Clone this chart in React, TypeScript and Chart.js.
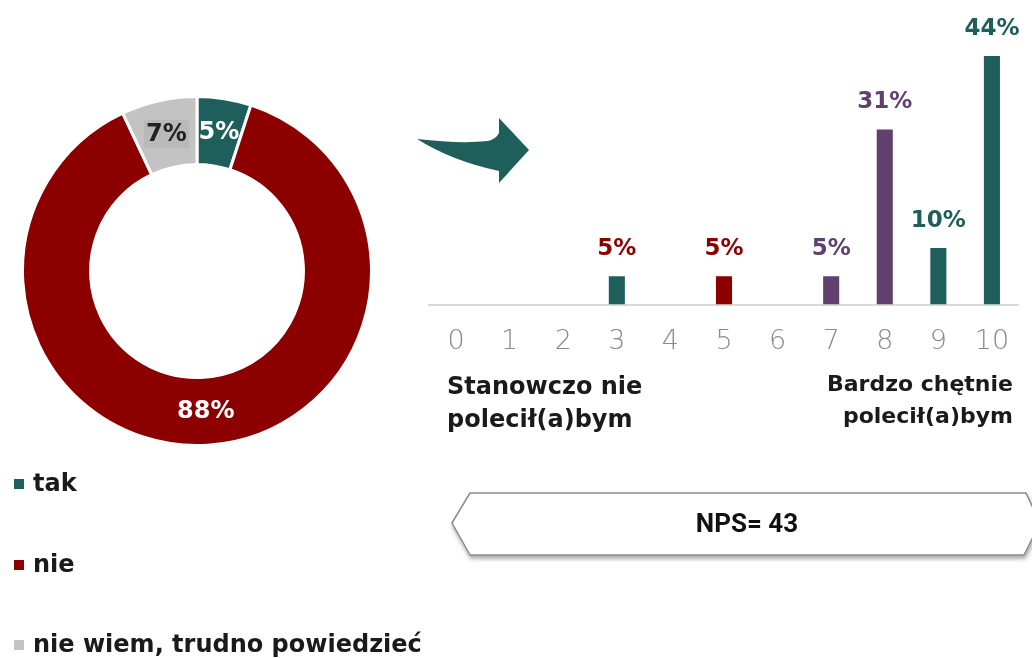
import React, { useEffect, useRef } from "react";
import { Chart, registerables } from "chart.js";

Chart.register(...registerables);

// ---- data ----
const donutLabels = ["tak", "nie", "nie wiem, trudno powiedzieć"];
const donutValues = [5, 88, 7];
const donutColors = ["#1f5f5b", "#8c0000", "#c3c3c3"];
const donutLabelColors = ["#ffffff", "#ffffff", "#222222"];

const scoreLabels = ["0", "1", "2", "3", "4", "5", "6", "7", "8", "9", "10"];
const scoreValues = [0, 0, 0, 5, 0, 5, 0, 5, 31, 10, 44];
const barColors = ["#1f5f5b", "#1f5f5b", "#1f5f5b", "#1f5f5b", "#1f5f5b", "#8c0000", "#613f6e", "#613f6e", "#613f6e", "#1f5f5b", "#1f5f5b"];
const barLabelColors = ["#8c0000", "#8c0000", "#8c0000", "#8c0000", "#8c0000", "#8c0000", "#613f6e", "#613f6e", "#613f6e", "#1f5f5b", "#1f5f5b"];

const leftScaleLabel = ["Stanowczo nie", "polecił(a)bym"];
const rightScaleLabel = ["Bardzo chętnie", "polecił(a)bym"];
const npsText = "NPS= 43";

const FONT = "'DejaVu Sans', sans-serif";

const donutLabelPlugin = {
  id: "donutLabels",
  afterDatasetsDraw(chart: any) {
    const ctx = chart.ctx;
    const meta = chart.getDatasetMeta(0);
    ctx.save();
    ctx.font = `bold 24px ${FONT}`;
    ctx.textAlign = "center";
    ctx.textBaseline = "middle";
    meta.data.forEach((arc: any, i: number) => {
      const p = arc.getCenterPoint();
      const txt = `${donutValues[i]}%`;
      if (i === 2) {
        const w = ctx.measureText(txt).width;
        ctx.fillStyle = "#b9b9b9";
        ctx.fillRect(p.x - w / 2 - 2, p.y - 14, w + 4, 28);
      }
      ctx.fillStyle = donutLabelColors[i];
      ctx.fillText(txt, p.x, p.y + 1);
    });
    ctx.restore();
  },
};

const barLabelPlugin = {
  id: "barLabels",
  afterDatasetsDraw(chart: any) {
    const ctx = chart.ctx;
    const meta = chart.getDatasetMeta(0);
    ctx.save();
    ctx.font = `bold 23px ${FONT}`;
    ctx.textAlign = "center";
    ctx.textBaseline = "middle";
    meta.data.forEach((bar: any, i: number) => {
      const v = scoreValues[i];
      if (!v) return;
      ctx.fillStyle = barLabelColors[i];
      ctx.fillText(`${v}%`, bar.x, bar.y - 27);
    });
    ctx.restore();
  },
};

function DonutChart() {
  const ref = useRef<HTMLCanvasElement>(null);
  useEffect(() => {
    const chart = new Chart(ref.current!, {
      type: "doughnut",
      data: {
        labels: donutLabels,
        datasets: [
          {
            data: donutValues,
            backgroundColor: donutColors,
            borderColor: "#ffffff",
            borderWidth: 3,
          },
        ],
      },
      options: {
        responsive: false,
        animation: false,
        cutout: "61%",
        layout: { padding: 0 },
        plugins: { legend: { display: false }, tooltip: { enabled: false } },
      },
      plugins: [donutLabelPlugin],
    });
    return () => chart.destroy();
  }, []);
  return (
    <canvas
      ref={ref}
      width={352}
      height={352}
      style={{ position: "absolute", left: 21, top: 95, width: 352, height: 352 }}
    />
  );
}

function BarChart() {
  const ref = useRef<HTMLCanvasElement>(null);
  useEffect(() => {
    const chart = new Chart(ref.current!, {
      type: "bar",
      data: {
        labels: scoreLabels,
        datasets: [
          {
            data: scoreValues,
            backgroundColor: barColors,
            borderWidth: 0,
            barPercentage: 0.3,
            categoryPercentage: 1,
          },
        ],
      },
      options: {
        responsive: false,
        animation: false,
        layout: { padding: { top: 22, bottom: 6, left: 0, right: 0 } },
        plugins: { legend: { display: false }, tooltip: { enabled: false } },
        scales: {
          y: { display: false, min: 0, max: 50 },
          x: {
            grid: { display: false, drawTicks: false },
            border: { display: true, color: "#d9d9d9", width: 2 },
            ticks: {
              color: "#8a8a8a",
              font: { family: FONT, size: 27, weight: 200 as any },
              padding: 21,
            },
          },
        },
      },
      plugins: [barLabelPlugin],
    });
    return () => chart.destroy();
  }, []);
  return (
    <canvas
      ref={ref}
      width={603}
      height={385}
      style={{ position: "absolute", left: 427, top: 0, width: 603, height: 385 }}
    />
  );
}

export default function App() {
  const textStyle: React.CSSProperties = {
    position: "absolute",
    fontFamily: FONT,
    fontWeight: "bold",
    fontSize: 23,
    color: "#1a1a1a",
    lineHeight: "33px",
    whiteSpace: "nowrap",
  };
  const legendTops = [484, 565, 645];
  return (
    <div
      style={{
        position: "absolute",
        left: 0,
        top: 0,
        width: 1032,
        height: 658,
        background: "#ffffff",
        overflow: "hidden",
      }}
    >
      <DonutChart />
      <BarChart />

      <svg
        width={1032}
        height={658}
        style={{ position: "absolute", left: 0, top: 0, pointerEvents: "none" }}
      >
        <defs>
          <filter id="sh" x="-5%" y="-30%" width="110%" height="170%">
            <feDropShadow dx="1" dy="3" stdDeviation="2" floodColor="#000" floodOpacity="0.35" />
          </filter>
        </defs>
        <path
          d="M417,139 Q460,144 488,141 Q496,139 499,133 L499,118 L529,150 L499,183 L499,171 Q452,161 417,139 Z"
          fill="#1f5f5b"
        />
        <polygon
          points="452,523 470,493 1026,493 1040,523 1024,555 470,555"
          fill="#ffffff"
          stroke="#8a8a8a"
          strokeWidth={1.5}
          filter="url(#sh)"
        />
      </svg>

      <div
        style={{
          position: "absolute",
          left: 452,
          width: 590,
          top: 506,
          textAlign: "center",
          fontFamily: "'Liberation Sans Narrow', 'Roboto', sans-serif",
          fontWeight: "bold",
          fontSize: 26,
          lineHeight: "34px",
          color: "#111",
        }}
      >
        {npsText}
      </div>

      <div style={{ ...textStyle, fontSize: 24, left: 447, top: 370 }}>
        {leftScaleLabel[0]}
        <br />
        {leftScaleLabel[1]}
      </div>
      <div style={{ ...textStyle, fontSize: 22, right: 1032 - 1013, top: 368, textAlign: "right", lineHeight: "32px" }}>
        {rightScaleLabel[0]}
        <br />
        {rightScaleLabel[1]}
      </div>

      {donutLabels.map((l, i) => (
        <div
          key={l}
          style={{
            ...textStyle,
            fontSize: 24,
            left: 14,
            top: legendTops[i] - 17,
            display: "flex",
            alignItems: "center",
          }}
        >
          <span
            style={{
              display: "inline-block",
              width: 10,
              height: 10,
              background: donutColors[i],
              marginRight: 9,
            }}
          />
          <span>{l}</span>
        </div>
      ))}
    </div>
  );
}
